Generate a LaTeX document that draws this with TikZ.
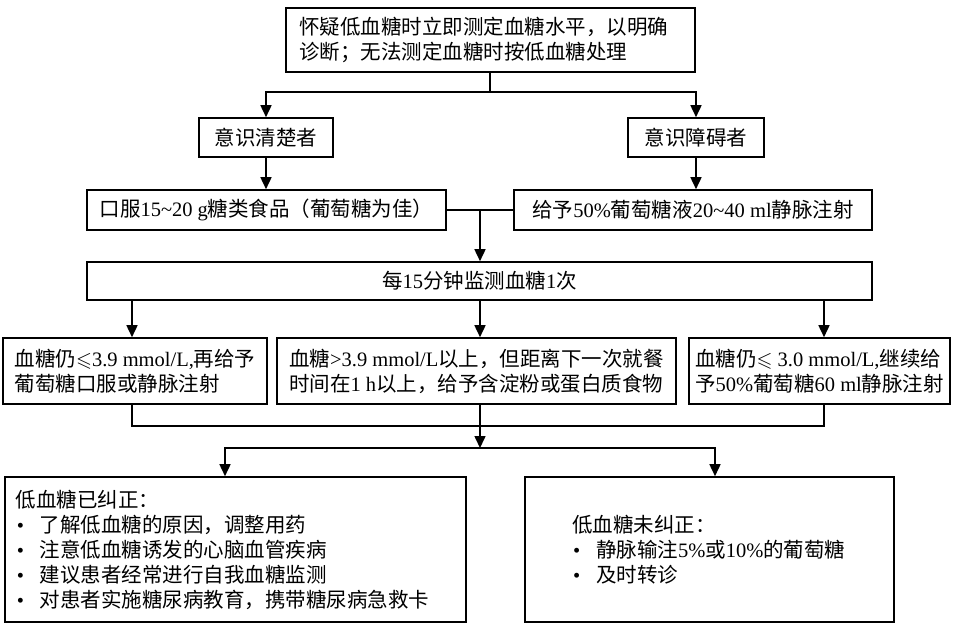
\documentclass[tikz,border=0pt]{standalone}
\usepackage{amssymb}
\usepackage{fontspec}
\setmainfont{Noto Sans CJK SC}
\newfontfamily\lat{Liberation Serif}
\usetikzlibrary{arrows.meta,positioning}
\tikzset{
	flowbox/.style={draw, line width=1.6pt, inner sep=0pt, align=left,
		font=\fontsize{20.5}{25}\selectfont},
	flowline/.style={line width=1.6pt},
	flowarrow/.style={line width=1.6pt, -{Triangle[width=11pt,length=12pt]}},
}
\newcommand{\bul}{\makebox[24pt][l]{\hspace{1pt}\lat •}}

\begin{document}
\begin{tikzpicture}[x=1pt,y=-1pt]
\useasboundingbox (0,0) rectangle (956,634);

\node[flowbox, minimum width=409, minimum height=64, text width=383] (suspect) at (490.5,40)
	{怀疑低血糖时立即测定血糖水平，以明确\\诊断；无法测定血糖时按低血糖处理};
\node[flowbox, minimum width=134, minimum height=39] (aware) at (266,137.5) {意识清楚者};
\node[flowbox, minimum width=136, minimum height=39] (coma) at (696,137.5) {意识障碍者};
\node[flowbox, minimum width=359, minimum height=40] (oral) at (266.5,210)
	{口服{\lat 15\textasciitilde20 g}糖类食品（葡萄糖为佳）};
\node[flowbox, minimum width=358, minimum height=40] (iv) at (693,210)
	{给予{\lat 50\%}葡萄糖液{\lat 20\textasciitilde40 ml}静脉注射};
\node[flowbox, minimum width=785, minimum height=38] (monitor) at (479.5,281)
	{每{\lat 15}分钟监测血糖{\lat 1}次};

\node[flowbox, minimum width=264, minimum height=66] (still) at (135,371)
	{血糖仍{\lat $\leqslant$3.9 mmol/L,}再给予\\葡萄糖口服或静脉注射};
\node[flowbox, minimum width=399, minimum height=66] (above) at (476.5,371)
	{血糖{\lat >3.9 mmol/L}以上，但距离下一次就餐\\时间在{\lat 1 h}以上，给予含淀粉或蛋白质食物};
\node[flowbox, minimum width=261, minimum height=66] (severe) at (819.5,371)
	{血糖仍{\lat $\leqslant$ 3.0 mmol/L,}继续给\\予{\lat 50\%}葡萄糖{\lat 60 ml}静脉注射};

\node[flowbox, minimum width=461, minimum height=145, text width=439] (fixed) at (235.5,549.5)
	{低血糖已纠正：\\
	\bul 了解低血糖的原因，调整用药\\
	\bul 注意低血糖诱发的心脑血管疾病\\
	\bul 建议患者经常进行自我血糖监测\\
	\bul 对患者实施糖尿病教育，携带糖尿病急救卡};
\node[flowbox, minimum width=369, minimum height=145, text width=275] (unfixed) at (709.5,549.5)
	{低血糖未纠正：\\
	\bul 静脉输注{\lat 5\%}或{\lat 10\%}的葡萄糖\\
	\bul 及时转诊};

% connectors
\coordinate (split1) at (490,92);
\coordinate (merge1) at (480,210);
\coordinate (merge2) at (480,426);
\coordinate (split2) at (480,448);

\draw[flowline] (suspect.south -| split1) -- (split1);
\draw[flowarrow] (split1) -| (aware.north);
\draw[flowarrow] (split1) -| (coma.north);
\draw[flowarrow] (aware.south) -- (aware.south |- oral.north);
\draw[flowarrow] (coma.south) -- (coma.south |- iv.north);
\draw[flowline] (oral.east) -- (merge1) -- (iv.west);
\draw[flowarrow] (merge1) -- (merge1 |- monitor.north);

\draw[flowarrow] ([xshift=-3]monitor.south -| still.north) -- ([xshift=-3]still.north);
\draw[flowarrow] (monitor.south -| merge1) -- (merge1 |- above.north);
\draw[flowarrow] ([xshift=4.5]monitor.south -| severe.north) -- ([xshift=4.5]severe.north);

\draw[flowline] ([xshift=-3]still.south) |- (merge2) -| ([xshift=4.5]severe.south);
\draw[flowline] (above.south -| merge2) -- (merge2);
\draw[flowarrow] (merge2) -- (split2);
\draw[flowarrow] (split2) -| ([xshift=-10.5]fixed.north);
\draw[flowarrow] (split2) -| ([xshift=5.5]unfixed.north);

\end{tikzpicture}
\end{document}
